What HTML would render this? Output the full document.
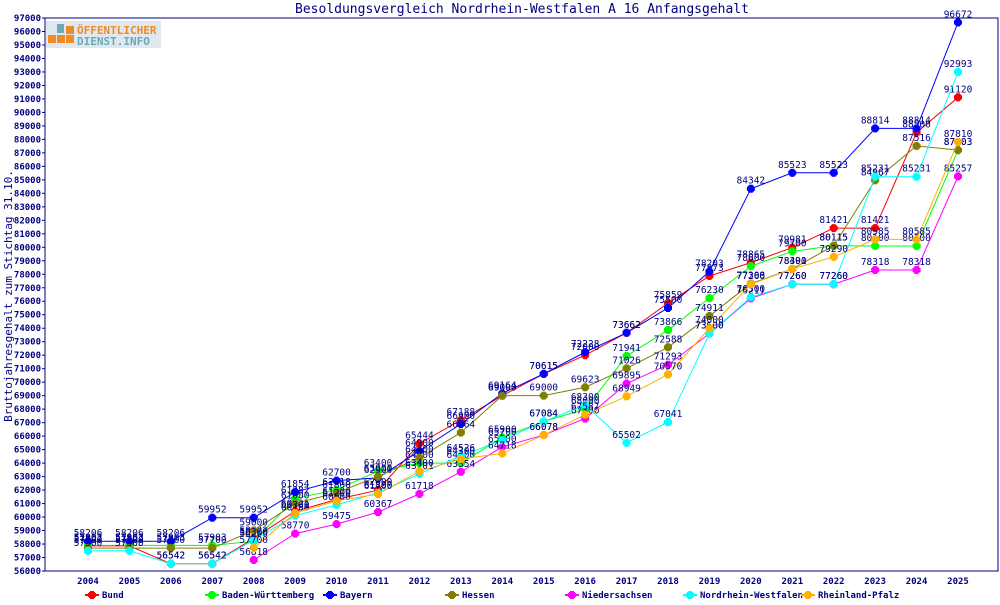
<!DOCTYPE html>
<html><head><meta charset="utf-8"><style>
body{margin:0;background:#fff;width:1000px;height:600px;overflow:hidden}
svg text{font-family:"DejaVu Sans Mono","Liberation Mono",monospace}
</style></head><body>
<svg id="s" width="1000" height="600" xmlns="http://www.w3.org/2000/svg">
<rect x="45" y="18" width="953" height="553" fill="none" stroke="#000080" stroke-width="1"/>
<text x="522" y="13" font-size="13" fill="#000080" text-anchor="middle">Besoldungsvergleich Nordrhein-Westfalen A 16 Anfangsgehalt</text>
<text transform="translate(12,296) rotate(-90)" font-size="11" fill="#000080" text-anchor="middle">Bruttojahresgehalt zum Stichtag 31.10.</text>
<rect x="46" y="21" width="115" height="27" fill="#dfe8ee"/>
<rect x="48" y="35" width="8" height="8" fill="#f08a24"/><rect x="57" y="35" width="8" height="8" fill="#f08a24"/><rect x="66" y="35" width="8" height="8" fill="#f08a24"/><rect x="66" y="26" width="8" height="8" fill="#f08a24"/><rect x="57" y="24" width="7" height="9" fill="#6aaab8"/>
<text x="77" y="34" font-size="11" font-weight="bold" fill="#f08a24" font-family="Liberation Sans">ÖFFENTLICHER</text>
<text x="77" y="45" font-size="11" font-weight="bold" fill="#6aaab8" font-family="Liberation Sans">DIENST.INFO</text>
<g id="g"></g>
</svg>
<script>
var g=document.getElementById('g'),NS='http://www.w3.org/2000/svg';
function el(t,a,txt){var e=document.createElementNS(NS,t);for(var k in a)e.setAttribute(k,a[k]);if(txt!=null)e.textContent=txt;g.appendChild(e);return e;}
function Y(v){return 571-(v-56000)*553/41000;}
function X(i){return 88+i*870/21;}
for(var v=56000;v<=97000;v+=1000){var y=Y(v);el('line',{x1:42,x2:45,y1:y,y2:y,stroke:'#000080'});el('text',{x:41,y:y+3,'font-size':9,'font-weight':'bold',fill:'#000080','text-anchor':'end'},v);}
for(var i=0;i<22;i++){el('text',{x:X(i),y:584,'font-size':9,'font-weight':'bold',fill:'#000080','text-anchor':'middle'},2004+i);}
var S=[
['Bund','#ff0000',[57862,57862,56542,56542,58422,60421,61300,62000,65444,67188,69000,70615,72000,73662,75859,77873,78865,79981,81421,81421,88500,91120]],
['Baden-Württemberg','#00ff00',[57903,57903,57903,57903,58200,61382,62018,63400,64000,64000,65900,67084,68000,71941,73866,76230,78600,79700,80115,80100,80100,87203]],
['Bayern','#0000ff',[58206,58206,58206,59952,59952,61854,62700,62900,64900,66900,69164,70615,72228,73662,75500,78203,84342,85523,85523,88814,88814,96672]],
['Hessen','#808000',[57700,57700,57700,57700,59000,61000,61800,63000,64400,66264,69000,69000,69623,71026,72588,74911,77308,78400,80115,84967,87516,87203]],
['Niedersachsen','#ff00ff',[null,null,null,null,56818,58770,59475,60367,61718,63354,65200,66078,67300,69895,71293,73600,76211,77260,77260,78318,78318,85257]],
['Nordrhein-Westfalen','#00ffff',[57500,57500,56542,56542,58300,60100,60900,61800,63201,64526,65700,67084,68300,65502,67041,73600,76300,77260,77260,85231,85231,92993]],
['Rheinland-Pfalz','#ffb000',[null,null,null,null,57700,60300,61200,61700,63400,64300,64718,66078,67587,68949,70570,74000,77260,78391,79290,80585,80585,87810]]];
function mk(x,y,c){el('rect',{x:x-4,y:y-2,width:8,height:4,fill:c});el('rect',{x:x-2,y:y-4,width:4,height:8,fill:c});el('rect',{x:x-3,y:y-3,width:6,height:6,fill:c});}
var lx=[92,212,330,452,572,690,808];
S.forEach(function(s,k){var d=s[2],p='';d.forEach(function(v,i){if(v!=null)p+=(p?'L':'M')+X(i)+','+Y(v);});
el('path',{d:p,fill:'none',stroke:s[1],'stroke-width':1});
d.forEach(function(v,i){if(v!=null){mk(X(i),Y(v),s[1]);}});
d.forEach(function(v,i){if(v!=null)el('text',{x:X(i),y:Y(v)-5,'font-size':9.5,fill:'#000080','text-anchor':'middle'},v);});
el('line',{x1:lx[k]-7,x2:lx[k]+7,y1:595,y2:595,stroke:s[1],'stroke-width':2});mk(lx[k],595,s[1]);
el('text',{x:lx[k]+10,y:598,'font-size':9,'font-weight':'bold',fill:'#000080'},s[0]);});
</script>
</body></html>
